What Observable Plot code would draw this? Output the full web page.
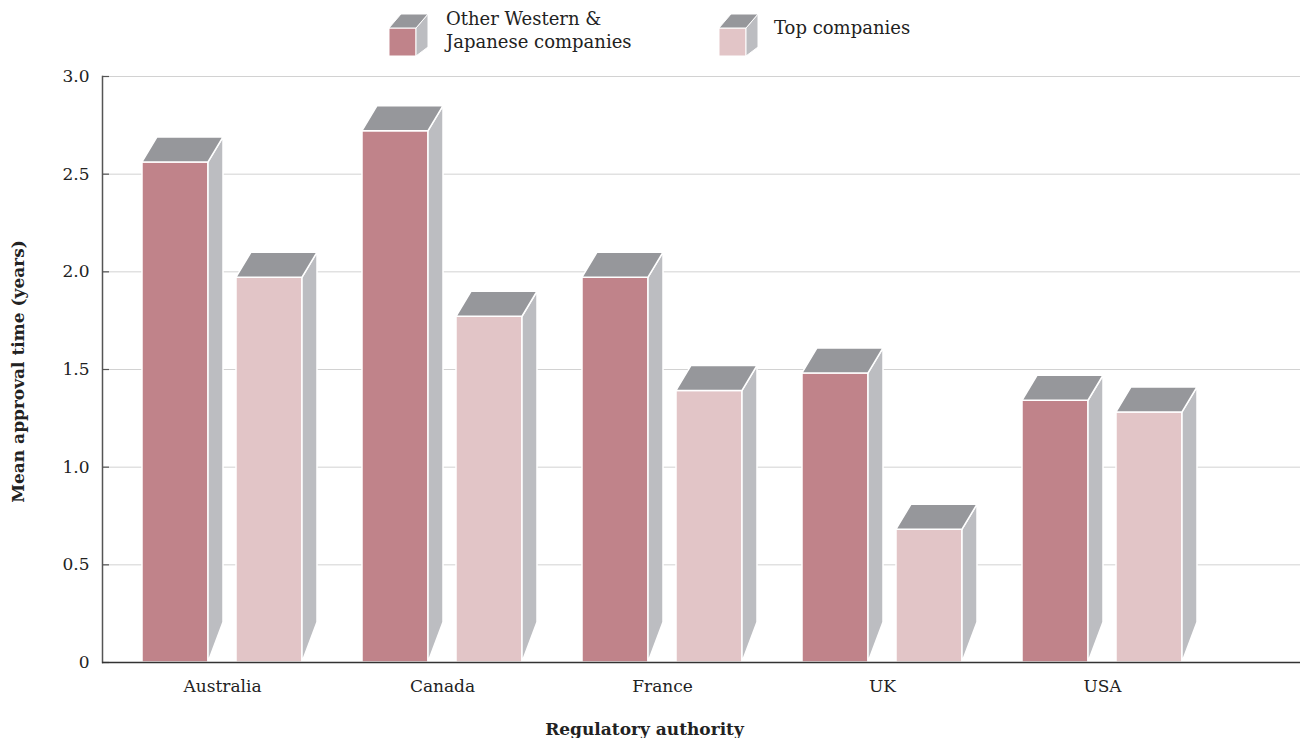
<!DOCTYPE html>
<html>
<head>
<meta charset="utf-8">
<script src="https://cdn.jsdelivr.net/npm/d3@7"></script>
<script src="https://cdn.jsdelivr.net/npm/@observablehq/plot@0.6"></script>
<style>
  html, body { margin: 0; padding: 0; background: #fff; }
  body { width: 1302px; height: 738px; overflow: hidden; font-family: "DejaVu Serif", serif; color: #222; }
  #legend { display: block; }
  #chart svg { display: block; }
</style>
</head>
<body>
<svg id="legend" width="1302" height="62"></svg>
<div id="chart"></div>
<script>
// Mean approval time by regulatory authority, in years
const countries = ["Australia", "Canada", "France", "UK", "USA"];
const seriesNames = ["Other Western &\nJapanese companies", "Top companies"];
const otherWestern = [2.56, 2.72, 1.97, 1.48, 1.34];
const topCompanies = [1.97, 1.77, 1.39, 0.68, 1.28];
const yTicks = [0, 0.5, 1, 1.5, 2, 2.5, 3];
const yTickLabels = ["0", "0.5", "1.0", "1.5", "2.0", "2.5", "3.0"];

const colors = {other: "#c0838a", top: "#e2c5c7", lid: "#96979b", side: "#bcbdc1"};
const ink = "#222";

const otherRows = countries.map((c, i) => ({country: c, value: otherWestern[i]}));
const topRows = countries.map((c, i) => ({country: c, value: topCompanies[i]}));

const W = 1302, H = 676;
const margin = {top: 14, right: 2, bottom: 76, left: 102};
const plotW = W - margin.left - margin.right;

// Adds a lid and a side face to each rendered bar, giving the 3-D block look
function extrude(dx, dy, foot) {
  return function (index, scales, values, dimensions, context, next) {
    const g = next(index, scales, values, dimensions, context);
    const ns = "http://www.w3.org/2000/svg";
    for (const rect of Array.from(g.querySelectorAll("rect"))) {
      const x = +rect.getAttribute("x"), y = +rect.getAttribute("y");
      const w = +rect.getAttribute("width"), h = +rect.getAttribute("height");
      const side = document.createElementNS(ns, "polygon");
      side.setAttribute("points", `${x + w},${y} ${x + w + dx},${y - dy} ${x + w + dx},${y + h - foot} ${x + w},${y + h}`);
      side.setAttribute("fill", colors.side);
      const lid = document.createElementNS(ns, "polygon");
      lid.setAttribute("points", `${x},${y} ${x + dx},${y - dy} ${x + w + dx},${y - dy} ${x + w},${y}`);
      lid.setAttribute("fill", colors.lid);
      g.appendChild(side);
      g.appendChild(lid);
    }
    return g;
  };
}

const chart = Plot.plot({
  width: W,
  height: H,
  marginTop: margin.top,
  marginRight: margin.right,
  marginBottom: margin.bottom,
  marginLeft: margin.left,
  style: {fontFamily: "DejaVu Serif, serif", color: ink, background: "#fff", overflow: "visible"},
  x: {type: "band", domain: countries, range: [141, 1183], paddingInner: 0.2744, paddingOuter: 0, label: null},
  y: {domain: [0, 3], label: null},
  marks: [
    Plot.gridY(yTicks.filter(d => d > 0), {stroke: "#d2d2d2", strokeOpacity: 1, strokeWidth: 1}),
    Plot.tickY(yTicks, {y: d => d, stroke: "#555", strokeWidth: 1.2, insetRight: plotW - 7}),
    Plot.frame({anchor: "left", stroke: "#555", strokeWidth: 1.5}),
    Plot.barY(otherRows, {x: "country", y: "value", fill: colors.other, insetRight: 94,
      stroke: "#fff", strokeWidth: 1.5, render: extrude(15, 25, 40)}),
    Plot.barY(topRows, {x: "country", y: "value", fill: colors.top, insetLeft: 94,
      stroke: "#fff", strokeWidth: 1.5, render: extrude(15, 25, 40)}),
    Plot.ruleY([0], {stroke: "#333", strokeWidth: 1.5}),
    Plot.axisY(yTicks, {tickSize: 0, tickPadding: 13, fontSize: 17, label: null,
      tickFormat: d => yTickLabels[yTicks.indexOf(d)]}),
    Plot.axisX({tickSize: 0, tickPadding: 17, fontSize: 17, label: null}),
    Plot.text(["Mean approval time (years)"], {frameAnchor: "left", textAnchor: "middle", rotate: -90, dx: -84, dy: 2,
      fontSize: 17, fontWeight: "bold", fill: ink}),
    Plot.text(["Regulatory authority"], {frameAnchor: "bottom", dx: -57, dy: 72,
      fontSize: 17, fontWeight: "bold", fill: ink})
  ]
});
document.getElementById("chart").appendChild(chart);

// Legend: a small block per series with its name
const legend = d3.select("#legend");
const legendItems = [
  {x: 389, fill: colors.other, label: seriesNames[0]},
  {x: 719, fill: colors.top, label: seriesNames[1]}
];
for (const item of legendItems) {
  const x = item.x, y = 28, w = 27, h = 28, dx = 12, dy = 14, foot = 9;
  const g = legend.append("g").attr("stroke", "#fff").attr("stroke-width", 1);
  g.append("rect").attr("x", x).attr("y", y).attr("width", w).attr("height", h).attr("fill", item.fill);
  g.append("polygon").attr("fill", colors.side)
    .attr("points", `${x + w},${y} ${x + w + dx},${y - dy} ${x + w + dx},${y + h - foot} ${x + w},${y + h}`);
  g.append("polygon").attr("fill", colors.lid)
    .attr("points", `${x},${y} ${x + dx},${y - dy} ${x + w + dx},${y - dy} ${x + w},${y}`);
  const lines = item.label.split("\n");
  const tx = x + w + (lines.length === 1 ? 28 : 30);
  const t = legend.append("text").attr("x", tx).attr("fill", ink)
    .attr("font-family", "DejaVu Serif, serif").attr("font-size", 18);
  const top = lines.length === 1 ? 34 : 25;
  lines.forEach((line, i) => {
    t.append("tspan").attr("x", tx).attr("y", top + i * 23).text(line);
  });
}
</script>
</body>
</html>
